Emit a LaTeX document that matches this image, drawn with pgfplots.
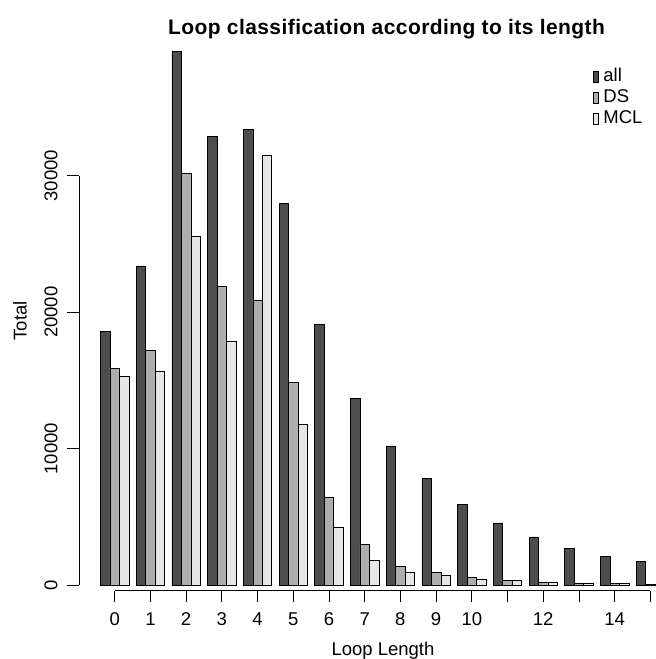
\documentclass[border=0pt]{standalone}
\usepackage{pgfplots}
\pgfplotsset{compat=1.18}
\usepackage{pgfplotstable}
\usepackage{fontspec}
\setmainfont{Liberation Sans}
\newfontfamily\titlefont{Liberation Sans}[LetterSpace=2]
\definecolor{cA}{HTML}{4D4D4D}
\definecolor{cB}{HTML}{AEAEAE}
\definecolor{cC}{HTML}{E6E6E6}
\pgfplotstableread{
x all ds mcl
0 18600 15900 15300
1 23400 17200 15650
2 39100 30200 25600
3 32900 21900 17900
4 33400 20900 31500
5 28000 14850 11750
6 19100 6450 4250
7 13700 3000 1800
8 10200 1340 930
9 7800 930 680
10 5900 560 440
11 4550 340 340
12 3520 220 220
13 2680 150 150
14 2070 100 100
15 1750 60 60
}\loopdata
\begin{document}
\begin{tikzpicture}
\useasboundingbox (0,0) rectangle (656pt,659pt);
\begin{axis}[
  at={(79pt,68.3pt)}, anchor=south west,
  scale only axis, width=576.7pt, height=551.3pt,
  xmin=-1, xmax=15.15, ymin=-418, ymax=40000,
  axis x line*=bottom, axis y line*=left,
  axis line style={draw=none},
  clip=false,
  xtick={0,...,15},
  xticklabels={0,1,2,3,4,5,6,7,8,9,10,,12,,14,},
  ytick={0,10000,20000,30000},
  scaled y ticks=false,
  tick align=outside,
  major tick length=11.5pt,
  every tick/.style={black, line width=0.7pt},
  /pgf/number format/assume math mode=true,
  /pgf/number format/1000 sep={},
  yticklabel style={rotate=90, anchor=base, yshift=10pt, font=\fontsize{18.5}{20}\selectfont},
  xticklabel style={anchor=base, yshift=-23.6pt, font=\fontsize{18.5}{20}\selectfont},
  legend style={at={(0.8918,0.9476)}, anchor=north west, draw=none, fill=none,
    inner sep=0pt, outer sep=0pt, row sep=6.5pt, column sep=0pt,
    font=\fontsize{18.5}{20}\selectfont,
    nodes={inner sep=0pt, outer sep=0pt}},
  legend cell align=left,
  myleg/.style={legend image code/.code={\draw[##1, draw=black, line width=0.6pt] (0pt,-6.7pt) rectangle (5pt,4.3pt); \path (9.5pt,0pt);}},
]
\addplot[ybar, bar width=0.265, bar shift=-0.265, fill=cA, draw=black, line width=0.6pt, myleg] table[x=x, y=all] {\loopdata};
\addplot[ybar, bar width=0.265, bar shift=0, fill=cB, draw=black, line width=0.6pt, myleg] table[x=x, y=ds] {\loopdata};
\addplot[ybar, bar width=0.265, bar shift=0.265, fill=cC, draw=black, line width=0.6pt, myleg] table[x=x, y=mcl] {\loopdata};
\legend{all, DS, MCL}
\draw[black, line width=0.7pt] (axis cs:-1,0) -- (axis cs:-1,30000);
\draw[black, line width=0.7pt] (axis cs:0,-418) -- (axis cs:15,-418);
\end{axis}
\node[anchor=base, font=\titlefont\bfseries\fontsize{21}{24}\selectfont] at (386.5pt,624.7pt) {Loop classification according to its length};
\node[anchor=base, font=\fontsize{18.5}{20}\selectfont] at (383pt,4pt) {Loop Length};
\node[anchor=base, rotate=90, font=\fontsize{18.5}{20}\selectfont] at (26.7pt,338pt) {Total};
\end{tikzpicture}
\end{document}
